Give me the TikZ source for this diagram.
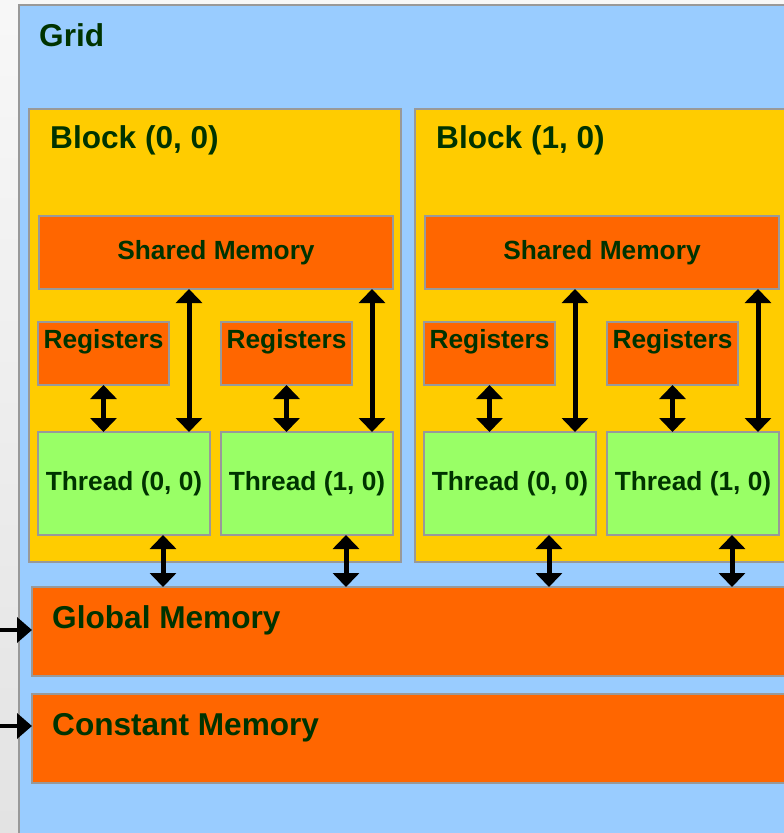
\documentclass[tikz,border=0pt]{standalone}
\usepackage{fontspec}
\setmainfont{Liberation Sans}
\usetikzlibrary{positioning,arrows.meta}
\definecolor{gridblue}{RGB}{153,204,255}
\definecolor{blockgold}{RGB}{255,204,0}
\definecolor{memorange}{RGB}{255,102,0}
\definecolor{threadgreen}{RGB}{153,255,102}
\definecolor{edgegray}{RGB}{153,153,153}
\definecolor{labelgreen}{RGB}{0,51,0}

\begin{document}
\begin{tikzpicture}[x=1pt,y=-1pt,
    box/.style={draw=edgegray,line width=1.5pt,inner sep=0pt,outer sep=0pt,anchor=north west},
    membox/.style={box,fill=memorange},
    thrbox/.style={box,fill=threadgreen},
    bigtxt/.style={font=\bfseries\fontsize{31.6}{36}\selectfont,text=labelgreen,inner sep=0pt},
    smalltxt/.style={font=\bfseries\fontsize{26.3}{30}\selectfont,text=labelgreen},
    link/.style={line width=5pt,{Triangle[width=26pt,length=14pt]}-{Triangle[width=26pt,length=14pt]}},
    feed/.style={line width=4.5pt,-{Triangle[width=25pt,length=15pt]}}]
    \useasboundingbox (0,0) rectangle (784,833);
    \clip (0,0) rectangle (784,833);
    \shade[top color=gray!6,bottom color=gray!22] (0,0) rectangle (784,833);
    \node[box,fill=gridblue,minimum width=800,minimum height=850] (grid) at (19,5) {};
    \node[bigtxt,anchor=base west] (gridtxt) at (39,46) {Grid};
    % device-wide memories
    \node[membox,minimum width=780,minimum height=89] (glob) at (32,587) {};
    \node[bigtxt,anchor=base west] (globtxt) at (52,628) {Global Memory};
    \node[membox,minimum width=780,minimum height=89] (const) at (32,694) {};
    \node[bigtxt,anchor=base west] (consttxt) at (52,735) {Constant Memory};
    \coordinate (gin) at (0,630);
    \coordinate (cin) at (0,726);
    \draw[feed] (gin) -- (gin -| glob.west);
    \draw[feed] (cin) -- (cin -| const.west);
    % blocks, each with two threads
    \foreach \b/\dx in {0/0,1/386}{
        \node[box,fill=blockgold,minimum width=372,minimum height=453] (blk\b) at (29+\dx,109) {};
        \node[bigtxt,anchor=base west] (blktxt\b) at (50+\dx,148) {Block (\b, 0)};
        \node[membox,smalltxt,minimum width=354,minimum height=73] (sh\b) at (39+\dx,216) {Shared Memory};
        \foreach \t/\tx in {0/0,1/183}{
            \node[membox,minimum width=131,minimum height=63] (reg\b\t) at (38+\dx+\tx,322) {};
            \node[smalltxt,anchor=base] (regtxt\b\t) at (103.5+\dx+\tx,348) {Registers};
            \node[thrbox,smalltxt,minimum width=172,minimum height=103] (thr\b\t) at (38+\dx+\tx,432) {Thread (\t, 0)};
            \coordinate (up\b\t) at (189+\dx+\tx,432);
            \coordinate (dn\b\t) at (163+\dx+\tx,535);
            \draw[link] (reg\b\t.south) -- (reg\b\t.south |- thr\b\t.north);
            \draw[link] (up\b\t |- sh\b.south) -- (up\b\t);
            \draw[link] (dn\b\t) -- (dn\b\t |- glob.north);
        }
    }
\end{tikzpicture}
\end{document}
